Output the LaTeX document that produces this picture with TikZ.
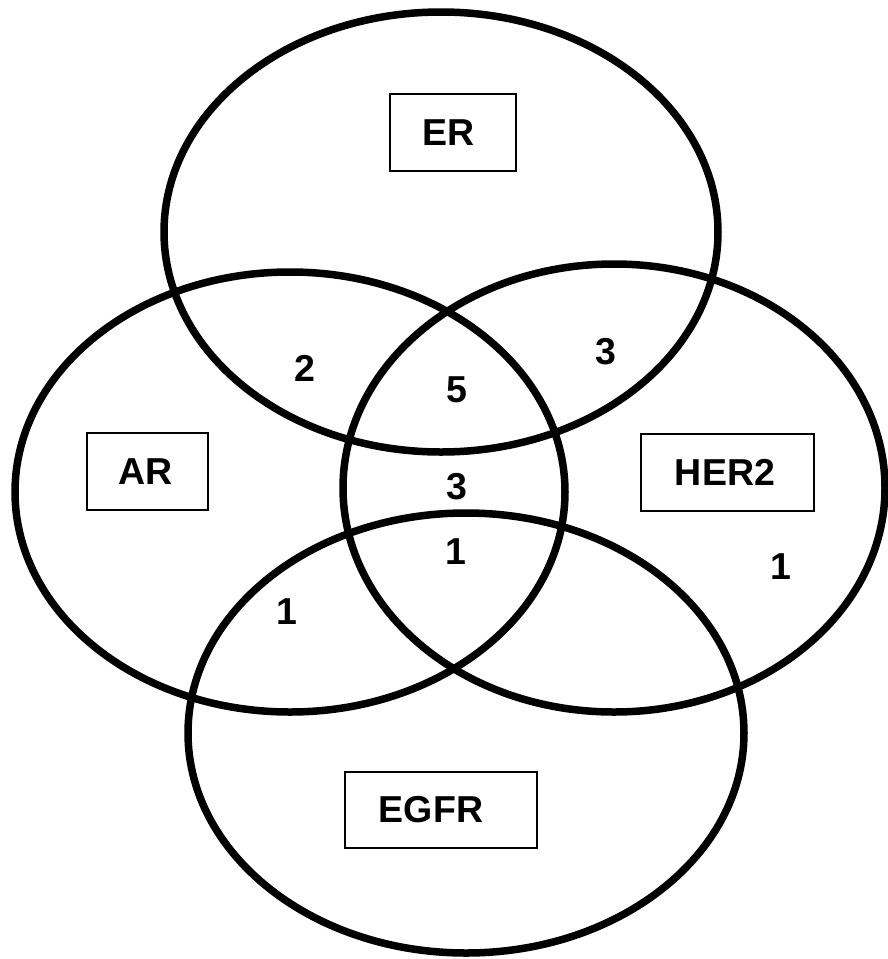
\documentclass[tikz,border=0pt]{standalone}
\usepackage{fontspec}
\setmainfont{Liberation Sans}
\begin{document}
\begin{tikzpicture}[x=1pt,y=-1pt,
  setring/.style={line width=7.5pt,black},
  tagbox/.style={draw,line width=2.5pt,inner sep=0pt,minimum height=77pt,
                 font=\fontsize{37.5}{40}\selectfont\bfseries},
  count/.style={inner sep=0pt,font=\fontsize{37.5}{40}\selectfont\bfseries}]
  \useasboundingbox (0,0) rectangle (888,959);

  % the four sets
  \draw[setring] (441,232) ellipse [x radius=277, y radius=220];
  \draw[setring] (290,492) ellipse [x radius=275, y radius=220];
  \draw[setring] (614,488) ellipse [x radius=271, y radius=224];
  \draw[setring] (466,733) ellipse [x radius=278, y radius=220];

  % set names
  \node[tagbox,minimum width=126pt] (er)   at (453,132.5) {ER\hspace*{9pt}};
  \node[tagbox,minimum width=121pt] (ar)   at (147.5,471.5) {AR\hspace*{4pt}};
  \node[tagbox,minimum width=173pt] (her2) at (727.5,472.5) {HER2\hspace*{5pt}};
  \node[tagbox,minimum width=192pt,minimum height=76pt] (egfr) at (441,810) {EGFR\hspace*{20pt}};

  % region counts
  \node[count] (erar)      at (305,368) {2};
  \node[count] (erarher)   at (457,390) {5};
  \node[count] (erher)     at (606,352) {3};
  \node[count] (arher)     at (457,487) {3};
  \node[count] (arheregfr) at (456,552) {1};
  \node[count] (heronly)   at (781,567) {1};
  \node[count] (aregfr)    at (287,612) {1};
\end{tikzpicture}
\end{document}
